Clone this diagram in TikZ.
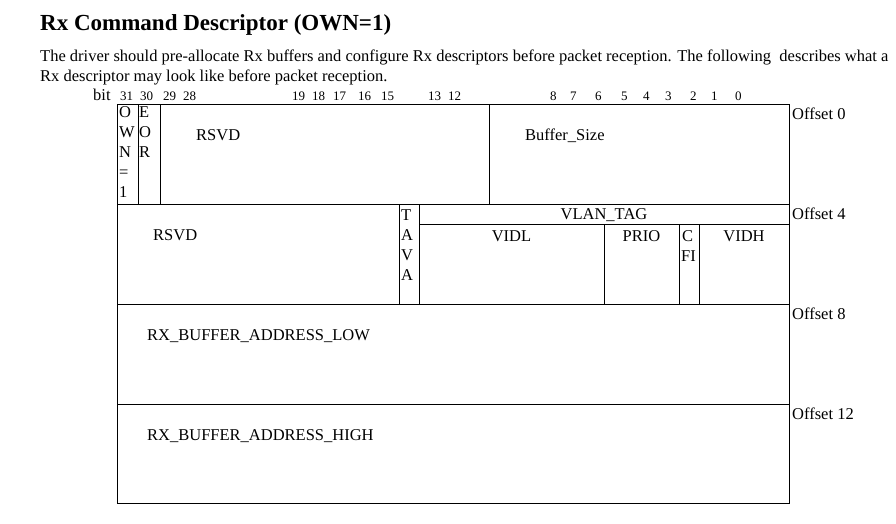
\documentclass[tikz,border=0pt]{standalone}
\usepackage{fontspec}
\setmainfont{Liberation Serif}
\begin{document}
\begin{tikzpicture}[x=1pt,y=-1pt,
  txt/.style={anchor=base west,inner sep=0pt,font=\fontsize{16.5}{20}\selectfont},
  ctxt/.style={anchor=base,inner sep=0pt,font=\fontsize{16.5}{20}\selectfont},
  bitn/.style={anchor=base west,inner sep=0pt,font=\fontsize{13}{14}\selectfont},
  grid/.style={line width=1pt,black}]
\useasboundingbox (0,0) rectangle (896,523);
% title and paragraph
\node[anchor=base west,inner sep=0pt,font=\fontsize{23}{26}\bfseries] (title) at (40,30) {Rx Command Descriptor (OWN=1)};
\node[txt] (p1) at (40,61) {The driver should pre-allocate Rx buffers and configure Rx descriptors before packet reception. The following\ \ describes what a};
\node[txt] (p2) at (40,81) {Rx descriptor may look like before packet reception.};
% bit numbers
\node[txt] (bit) at (93,100) {bit};
\foreach \n/\x in {31/120,30/140,29/163,28/183,19/292,18/312,17/333,16/358,15/381,13/428,12/448,8/550,7/570,6/595,5/621,4/643,3/665,2/690,1/711,0/735}
  \node[bitn] (b\n) at (\x,100) {\n};
% table lines
\draw[grid] (117,104) rectangle (789,503);
\draw[grid] (117,204) -- (789,204);
\draw[grid] (117,304) -- (789,304);
\draw[grid] (117,404) -- (789,404);
\draw[grid] (138,104) -- (138,204);
\draw[grid] (160,104) -- (160,204);
\draw[grid] (489,104) -- (489,204);
\draw[grid] (399,204) -- (399,304);
\draw[grid] (419,204) -- (419,304);
\draw[grid] (419,224) -- (789,224);
\draw[grid] (604,224) -- (604,304);
\draw[grid] (679,224) -- (679,304);
\draw[grid] (699,224) -- (699,304);
% row 1
\foreach \l/\y [count=\i] in {O/117,W/137,N/157,=/177,1/197}
  \node[txt] (own\i) at (119,\y) {\l};
\foreach \l/\y [count=\i] in {E/117,O/137,R/157}
  \node[txt] (eor\i) at (139,\y) {\l};
\node[txt] (rsvd1) at (196,140) {RSVD};
\node[txt] (bufsize) at (525,140) {Buffer\_Size};
\node[txt] (off0) at (792,119) {Offset 0};
% row 2
\node[txt] (rsvd2) at (153,240) {RSVD};
\foreach \l/\y [count=\i] in {T/220,A/240,V/260,A/280}
  \node[txt] (tava\i) at (401,\y) {\l};
\node[ctxt] (vlan) at (604,219) {VLAN\_TAG};
\node[ctxt] (vidl) at (511.5,241) {VIDL};
\node[ctxt] (prio) at (641.5,241) {PRIO};
\node[txt] (cfi1) at (682,241) {C};
\node[txt] (cfi2) at (681,261) {FI};
\node[ctxt] (vidh) at (744,241) {VIDH};
\node[txt] (off4) at (792,219) {Offset 4};
% row 3, 4
\node[txt] (low) at (147,340) {RX\_BUFFER\_ADDRESS\_LOW};
\node[txt] (off8) at (792,319) {Offset 8};
\node[txt] (high) at (147,440) {RX\_BUFFER\_ADDRESS\_HIGH};
\node[txt] (off12) at (792,419) {Offset 12};
\end{tikzpicture}
\end{document}
